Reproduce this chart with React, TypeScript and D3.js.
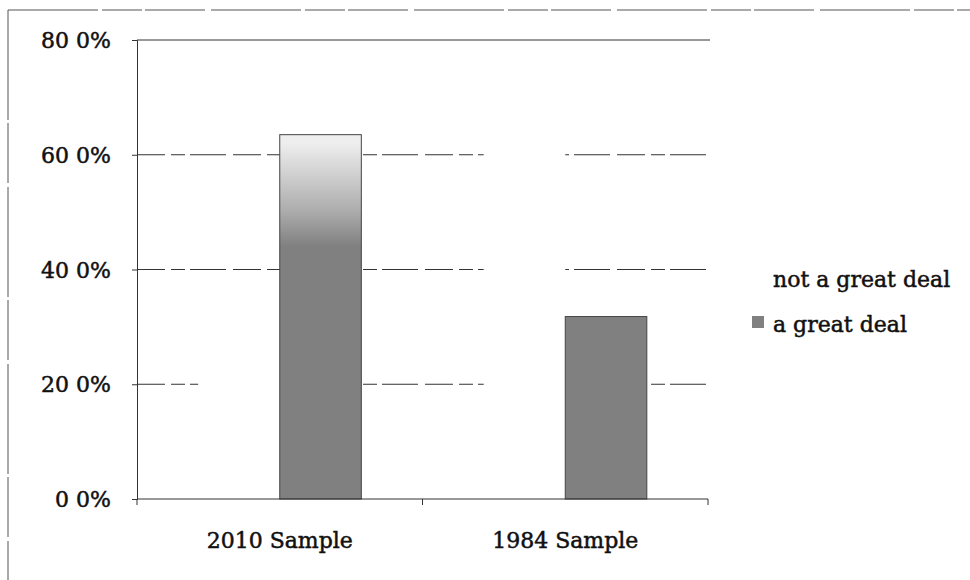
import React, { useRef, useEffect } from 'react';
import * as d3 from 'd3';

// chart data (percent)
const categories = ['2010 Sample', '1984 Sample'];
const seriesNames = ['not a great deal', 'a great deal'];
const notAGreatDeal = [36.5, 68.2];
const aGreatDeal = [63.5, 31.8];
const yTicks = [0, 20, 40, 60, 80];

const seriesValues = [notAGreatDeal, aGreatDeal];
const seriesFill = ['#ffffff', 'url(#scanGray)'];

const FONT = '"DejaVu Serif", Cambria, serif';

const App: React.FC = () => {
    const ref = useRef<SVGSVGElement>(null);

    useEffect(() => {
        if (!ref.current) return;
        const svg = d3.select(ref.current);
        svg.selectAll('*').remove();

        const width = 970;
        const height = 580;
        const plot = { left: 137, right: 708, top: 40, bottom: 499 };

        const y = d3.scaleLinear().domain([0, 80]).range([plot.bottom, plot.top]);
        const x0 = d3.scaleBand<string>().domain(categories).range([plot.left, plot.right]).padding(0);
        const x1 = d3.scaleBand<string>().domain(seriesNames).range([0, x0.bandwidth()])
            .paddingInner(0).paddingOuter(0.75);

        svg.attr('viewBox', `0 0 ${width} ${height}`);

        // gray fill that fades like the scanned original
        const defs = svg.append('defs');
        const grad = defs.append('linearGradient')
            .attr('id', 'scanGray')
            .attr('gradientUnits', 'userSpaceOnUse')
            .attr('x1', 0).attr('x2', 0)
            .attr('y1', y(44)).attr('y2', y(62));
        grad.append('stop').attr('offset', 0).attr('stop-color', '#808080');
        grad.append('stop').attr('offset', 0.35).attr('stop-color', '#adadad');
        grad.append('stop').attr('offset', 1).attr('stop-color', '#eeeeee');

        // outer frame (scanned edges)
        svg.append('line').attr('x1', 8).attr('x2', width).attr('y1', 10).attr('y2', 10)
            .attr('stroke', '#555').attr('stroke-width', 1).attr('stroke-dasharray', '90 4 40 3 60 6');
        svg.append('line').attr('x1', 8).attr('x2', 8).attr('y1', 10).attr('y2', height)
            .attr('stroke', '#555').attr('stroke-width', 1).attr('stroke-dasharray', '110 3 60 4');

        // gridlines
        svg.append('g').selectAll('line')
            .data(yTicks.filter(d => d > 0))
            .enter().append('line')
            .attr('x1', plot.left).attr('x2', plot.right + 2)
            .attr('y1', d => y(d)).attr('y2', d => y(d))
            .attr('stroke', '#333')
            .attr('stroke-width', 1)
            .attr('stroke-dasharray', d => d === 80 ? null : '28 6 14 5 36 7');

        // bars
        const groups = svg.append('g').selectAll('g')
            .data(seriesNames)
            .enter().append('g');

        groups.each(function (name, si) {
            d3.select(this).selectAll('rect')
                .data(categories)
                .enter().append('rect')
                .attr('x', c => (x0(c) as number) + (x1(name) as number))
                .attr('width', x1.bandwidth())
                .attr('y', (c, ci) => y(seriesValues[si][ci]))
                .attr('height', (c, ci) => plot.bottom - y(seriesValues[si][ci]))
                .attr('fill', seriesFill[si])
                .attr('stroke', si === 1 ? '#444' : 'none')
                .attr('stroke-width', 1);
        });

        // y axis
        svg.append('g')
            .attr('transform', `translate(${plot.left},0)`)
            .call(d3.axisLeft(y).tickValues(yTicks).tickSize(5).tickFormat(() => ''))
            .call(g => g.selectAll('path,line').attr('stroke', '#333'));

        const textStyle = (sel: any) => sel
            .style('font-family', FONT)
            .style('font-size', '22px')
            .attr('fill', '#111')
            .attr('stroke', '#111')
            .attr('stroke-width', 0.5);

        svg.append('g').selectAll('text')
            .data(yTicks)
            .enter().append('text')
            .attr('x', 111)
            .attr('y', d => y(d) + 8)
            .attr('text-anchor', 'end')
            .call(textStyle)
            .text(d => d3.format('.1%')(d / 100).replace('.', ' '));

        // x axis
        svg.append('line')
            .attr('x1', plot.left).attr('x2', plot.right)
            .attr('y1', plot.bottom).attr('y2', plot.bottom)
            .attr('stroke', '#333');
        svg.append('g').selectAll('line')
            .data([plot.left, ...categories.map(c => (x0(c) as number) + x0.bandwidth())])
            .enter().append('line')
            .attr('x1', d => d).attr('x2', d => d)
            .attr('y1', plot.bottom).attr('y2', plot.bottom + 6)
            .attr('stroke', '#333');

        svg.append('g').selectAll('text')
            .data(categories)
            .enter().append('text')
            .attr('x', c => (x0(c) as number) + x0.bandwidth() / 2)
            .attr('y', 548)
            .attr('text-anchor', 'middle')
            .call(textStyle)
            .text(c => c);

        // legend
        const legend = svg.append('g').attr('transform', 'translate(752,0)');
        const items = legend.selectAll('g')
            .data(seriesNames)
            .enter().append('g')
            .attr('transform', (d, i) => `translate(0,${287 + i * 45})`);
        items.append('rect')
            .attr('x', 0).attr('y', -16)
            .attr('width', 12).attr('height', 12)
            .attr('fill', (d, i) => i === 1 ? '#808080' : '#ffffff');
        items.append('text')
            .attr('x', 21).attr('y', 0)
            .call(textStyle)
            .text(d => d);
    }, []);

    return (
        <div style={{ position: 'absolute', left: 0, top: 0, width: 970, height: 580, background: '#fff' }}>
            <svg ref={ref} width={970} height={580} style={{ display: 'block' }} />
        </div>
    );
};

export default App;
